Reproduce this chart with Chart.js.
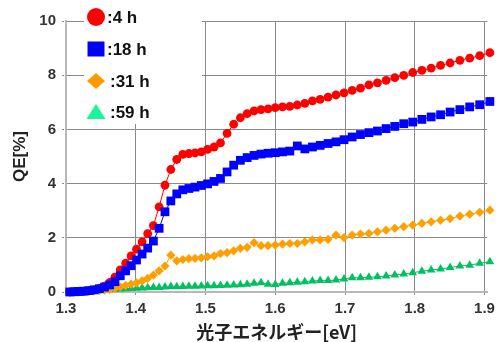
<!DOCTYPE html>
<html>
<head>
<meta charset="utf-8">
<script src="https://cdn.jsdelivr.net/npm/chart.js@4/dist/chart.umd.min.js"></script>
<style>
html,body{margin:0;padding:0;background:#fff;}
#wrap{width:499px;height:342px;position:relative;}
</style>
</head>
<body>
<div id="wrap"><canvas id="c" width="499" height="342"></canvas></div>
<script>
// photon energy [eV] of each measured point
const energies = [1.3053,1.3122,1.3191,1.3262,1.3333,1.3405,1.3478,1.3552,1.3626,1.3702,
  1.3778,1.3855,1.3933,1.4011,1.4091,1.4171,1.4253,1.4335,1.4419,1.4503,
  1.4588,1.4675,1.4762,1.4850,1.4940,1.5030,1.5122,1.5215,1.5309,1.5404,
  1.5500,1.5597,1.5696,1.5796,1.5897,1.6000,1.6104,1.6209,1.6316,1.6424,
  1.6533,1.6644,1.6757,1.6871,1.6986,1.7103,1.7222,1.7343,1.7465,1.7589,
  1.7714,1.7842,1.7971,1.8102,1.8235,1.8370,1.8507,1.8647,1.8788,1.8931,1.9077];

const seriesLabels = [':4 h', ':18 h', ':31 h', ':59 h'];

const qe4h = [0.00,0.01,0.02,0.03,0.05,0.08,0.13,0.22,0.35,0.55,
  0.82,1.06,1.33,1.58,1.85,2.15,2.45,3.14,3.94,4.52,
  4.89,5.08,5.11,5.13,5.17,5.26,5.35,5.50,5.85,6.19,
  6.43,6.58,6.68,6.73,6.76,6.80,6.83,6.85,6.90,6.96,
  7.05,7.11,7.19,7.27,7.35,7.44,7.52,7.64,7.72,7.81,
  7.91,7.99,8.10,8.18,8.26,8.36,8.45,8.55,8.63,8.72,8.83];

const qe18h = [0.00,0.01,0.02,0.03,0.05,0.08,0.12,0.18,0.26,0.38,
  0.60,0.78,0.97,1.18,1.40,1.62,1.88,2.35,2.96,3.36,
  3.62,3.77,3.82,3.87,3.93,3.99,4.08,4.19,4.43,4.68,
  4.86,4.96,5.04,5.09,5.12,5.14,5.17,5.20,5.39,5.28,
  5.35,5.41,5.48,5.54,5.62,5.72,5.81,5.88,5.94,6.03,
  6.11,6.21,6.27,6.37,6.46,6.54,6.64,6.73,6.83,6.91,7.03];

const qe31h = [null,null,0.01,0.02,0.03,0.04,0.05,0.07,0.10,0.14,
  0.19,0.24,0.29,0.34,0.41,0.50,0.62,0.78,0.96,1.36,
  1.15,1.20,1.23,1.24,1.26,1.30,1.33,1.42,1.45,1.52,
  1.61,1.65,1.82,1.71,1.71,1.73,1.77,1.79,1.79,1.85,
  1.92,1.92,1.94,2.10,2.01,2.10,2.14,2.16,2.22,2.28,
  2.35,2.41,2.47,2.53,2.59,2.65,2.71,2.80,2.87,2.94,3.02];

const qe59h = [null,0.02,0.03,0.04,0.05,0.06,0.07,0.08,0.09,0.10,
  0.11,0.12,0.13,0.14,0.15,0.16,0.17,0.17,0.18,0.20,
  0.19,0.20,0.21,0.21,0.22,0.23,0.23,0.24,0.25,0.26,
  0.27,0.29,0.32,0.34,0.29,0.28,0.32,0.34,0.36,0.38,
  0.41,0.42,0.42,0.44,0.48,0.53,0.53,0.54,0.56,0.59,
  0.63,0.66,0.71,0.77,0.81,0.85,0.90,0.96,0.99,1.06,1.12];

const xTicks = [1.3,1.4,1.5,1.6,1.7,1.8,1.9];
const yTicks = [0,2,4,6,8,10];

const toPts = arr => energies.map((e,i)=>({x:e, y:arr[i]}));

const styles = [
  {color:'#ff0000', fill:'#ff0000', shape:'circle', r:4.4, order:1, legendFill:'#ff0000'},
  {color:'#0000ff', fill:'#0000ff', shape:'rect', r:6.2, order:0, legendFill:'#0000ff'},
  {color:'#ffa000', fill:'#ffa000', shape:'rectRot', r:4.6, order:2, legendFill:'#ff9900'},
  {color:'#00c060', fill:'#00c060', shape:'triangle', r:5, order:3, legendFill:'#19f59a'}
];
const seriesData = [qe4h, qe18h, qe31h, qe59h];

const datasets = seriesData.map((arr,k)=>({
  label: seriesLabels[k],
  data: toPts(arr),
  borderColor: styles[k].color,
  backgroundColor: styles[k].fill,
  pointBackgroundColor: styles[k].fill,
  pointBorderColor: styles[k].fill,
  pointBorderWidth: 0,
  borderWidth: 1,
  pointStyle: styles[k].shape,
  pointRadius: styles[k].r,
  tension: 0,
  clip: false,
  order: styles[k].order,
  spanGaps: false
}));

const legendBox = {
  id: 'legendBox',
  beforeDatasetsDraw(chart){
    const ctx = chart.ctx;
    ctx.save();
    ctx.fillStyle = '#ffffff';
    ctx.fillRect(84, 0, 118, 124);
    ctx.restore();
  },
  afterDraw(chart){
    const ctx = chart.ctx;
    const rows = [17, 49, 81, 112];
    const mx = 96;
    ctx.save();
    chart.data.datasets.forEach((ds,k)=>{
      const y = rows[k];
      const st = styles[k];
      ctx.fillStyle = st.legendFill;
      ctx.beginPath();
      if (st.shape === 'circle') {
        ctx.arc(mx, y, 9, 0, Math.PI*2);
      } else if (st.shape === 'rect') {
        ctx.rect(mx-8.5, y-7.5, 17, 15);
      } else if (st.shape === 'rectRot') {
        ctx.moveTo(mx, y-8); ctx.lineTo(mx+9, y); ctx.lineTo(mx, y+8); ctx.lineTo(mx-9, y);
        ctx.closePath();
      } else {
        ctx.moveTo(mx, y-8); ctx.lineTo(mx+9.5, y+7); ctx.lineTo(mx-9.5, y+7);
        ctx.closePath();
      }
      ctx.fill();
      ctx.fillStyle = '#111';
      ctx.font = 'bold 17px "Liberation Sans", Arial, sans-serif';
      ctx.textBaseline = 'middle';
      ctx.textAlign = 'left';
      ctx.fillText(ds.label, k < 2 ? 107 : 110, y + 1);
    });
    ctx.restore();
  }
};

const gridCommon = {
  color: '#8a8a8a',
  lineWidth: 1,
  borderDash: [2, 1],
  drawTicks: true,
  tickLength: 4,
  tickColor: '#8a8a8a',
  tickBorderDash: [2, 1]
};

new Chart(document.getElementById('c'), {
  type: 'line',
  data: { datasets },
  plugins: [legendBox],
  options: {
    responsive: false,
    animation: false,
    devicePixelRatio: 1,
    layout: { padding: { left: 0, top: 21, right: 10, bottom: 0 } },
    plugins: { legend: { display: false }, tooltip: { enabled: false } },
    scales: {
      x: {
        type: 'linear',
        min: 1.3,
        max: 1.904,
        afterBuildTicks(scale){ scale.ticks = xTicks.map(v=>({value:v})); },
        afterFit(scale){ scale.height = 50; },
        grid: gridCommon,
        border: { display: true, color: '#b8b8b8', width: 2 },
        ticks: {
          padding: 4,
          color: '#333',
          font: { family: '"Liberation Sans", Arial, sans-serif', size: 15, weight: 'bold' },
          callback: v => v.toFixed(1),
          maxRotation: 0
        },
        title: {
          display: true,
          text: '光子エネルギー[eV]',
          color: '#222',
          font: { family: '"Noto Sans CJK JP", sans-serif', size: 18, weight: 'bold' },
          padding: { top: 0, bottom: -1 }
        }
      },
      y: {
        type: 'linear',
        min: 0,
        max: 10,
        afterBuildTicks(scale){ scale.ticks = yTicks.map(v=>({value:v})); },
        afterFit(scale){ scale.width = 66; },
        grid: gridCommon,
        border: { display: true, color: '#b8b8b8', width: 2 },
        ticks: {
          padding: 6,
          color: '#333',
          font: { family: '"Liberation Sans", Arial, sans-serif', size: 15, weight: 'bold' },
          callback: v => String(v)
        },
        title: {
          display: true,
          text: 'QE[%]',
          color: '#222',
          font: { family: '"Liberation Sans", Arial, sans-serif', size: 17, weight: 'bold' },
          padding: { top: 10, bottom: 0 }
        }
      }
    }
  }
});
</script>
</body>
</html>
